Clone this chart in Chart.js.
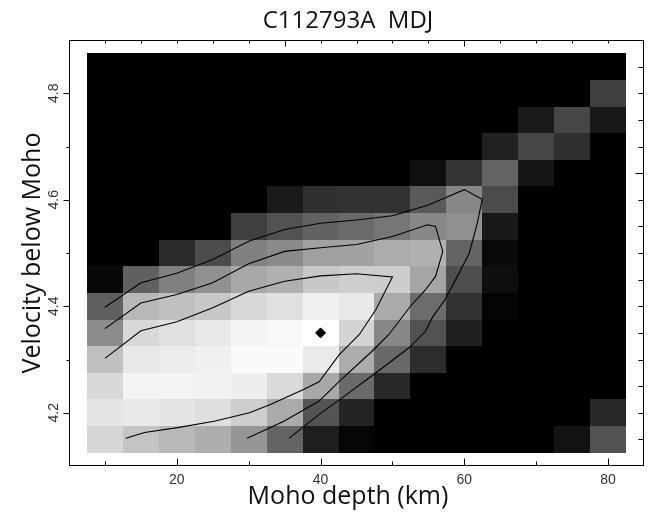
<!DOCTYPE html>
<html>
<head>
<meta charset="utf-8">
<script src="https://cdn.jsdelivr.net/npm/chart.js@4.4.1/dist/chart.umd.min.js"></script>
<style>
  html, body { margin: 0; padding: 0; background: #fff; }
  #wrap { width: 655px; height: 516px; }
</style>
</head>
<body>
<div id="wrap"><canvas id="chart" width="655" height="516"></canvas></div>
<script>
// grid centres
const depths = [10, 15, 20, 25, 30, 35, 40, 45, 50, 55, 60, 65, 70, 75, 80];
const velocities = [4.85, 4.80, 4.75, 4.70, 4.65, 4.60, 4.55, 4.50, 4.45, 4.40, 4.35, 4.30, 4.25, 4.20, 4.15];

// grey level of each cell (0 = black, 255 = white), one row per velocity
const shade = [
  [0, 0, 0, 0, 0, 0, 0, 0, 0, 0, 0, 0, 0, 0, 0],
  [0, 0, 0, 0, 0, 0, 0, 0, 0, 0, 0, 0, 0, 0, 64],
  [0, 0, 0, 0, 0, 0, 0, 0, 0, 0, 0, 0, 26, 70, 24],
  [0, 0, 0, 0, 0, 0, 0, 0, 0, 0, 0, 34, 70, 48, 0],
  [0, 0, 0, 0, 0, 0, 0, 0, 0, 16, 53, 100, 22, 0, 0],
  [0, 0, 0, 0, 0, 26, 48, 50, 50, 90, 135, 75, 0, 0, 0],
  [0, 0, 0, 0, 64, 82, 98, 106, 118, 136, 144, 24, 0, 0, 0],
  [0, 0, 42, 76, 128, 138, 160, 162, 172, 176, 100, 10, 0, 0, 0],
  [8, 96, 128, 144, 168, 176, 200, 206, 205, 165, 78, 14, 0, 0, 0],
  [96, 184, 192, 200, 216, 224, 240, 232, 170, 108, 50, 4, 0, 0, 0],
  [140, 216, 224, 232, 244, 248, 255, 212, 136, 82, 32, 0, 0, 0, 0],
  [192, 232, 236, 240, 250, 250, 234, 172, 104, 44, 0, 0, 0, 0, 0],
  [216, 244, 244, 242, 238, 218, 168, 106, 40, 0, 0, 0, 0, 0, 0],
  [228, 232, 228, 222, 206, 170, 84, 36, 0, 0, 0, 0, 0, 0, 40],
  [214, 196, 184, 174, 150, 100, 30, 6, 0, 0, 0, 0, 0, 18, 82]
];

// contour lines (depth km, velocity)
const contourOuter = [
  {x: 10, y: 4.398}, {x: 15, y: 4.444}, {x: 20, y: 4.462}, {x: 25, y: 4.488},
  {x: 30, y: 4.522}, {x: 35, y: 4.544}, {x: 40, y: 4.556}, {x: 45, y: 4.562},
  {x: 50, y: 4.570}, {x: 55, y: 4.590}, {x: 60, y: 4.619}, {x: 62.5, y: 4.601},
  {x: 61.8, y: 4.556}, {x: 60.7, y: 4.500}, {x: 58.8, y: 4.450}, {x: 57.2, y: 4.410},
  {x: 55.6, y: 4.380}, {x: 54.6, y: 4.353}, {x: 52.3, y: 4.322}, {x: 47.7, y: 4.275},
  {x: 43, y: 4.228}, {x: 39.8, y: 4.197}, {x: 35.6, y: 4.152}
];
const contourMiddle = [
  {x: 10, y: 4.358}, {x: 15, y: 4.406}, {x: 20, y: 4.422}, {x: 25, y: 4.444},
  {x: 30, y: 4.480}, {x: 35, y: 4.503}, {x: 40, y: 4.510}, {x: 45, y: 4.516},
  {x: 50, y: 4.531}, {x: 54.9, y: 4.553}, {x: 56, y: 4.550}, {x: 57, y: 4.503},
  {x: 56, y: 4.456}, {x: 54.6, y: 4.431}, {x: 52.5, y: 4.400}, {x: 49.5, y: 4.347},
  {x: 47.2, y: 4.316}, {x: 42.6, y: 4.259}, {x: 39.8, y: 4.222}, {x: 34.9, y: 4.184},
  {x: 29.8, y: 4.152}
];
const contourInner = [
  {x: 10, y: 4.302}, {x: 15, y: 4.354}, {x: 20, y: 4.371}, {x: 25, y: 4.397},
  {x: 30, y: 4.428}, {x: 35, y: 4.447}, {x: 40, y: 4.457}, {x: 45, y: 4.461},
  {x: 50, y: 4.455}, {x: 47.7, y: 4.394}, {x: 45.4, y: 4.347}, {x: 42.6, y: 4.309},
  {x: 39.8, y: 4.258}, {x: 37.7, y: 4.244}, {x: 33.1, y: 4.216}, {x: 30.1, y: 4.200},
  {x: 25.2, y: 4.184}, {x: 20.1, y: 4.172}, {x: 15.5, y: 4.163}, {x: 12.9, y: 4.152}
];
const bestFit = [{x: 40, y: 4.35}];

// axes
const xBottomTicks = [10, 20, 30, 40, 50, 60, 70, 80];
const xTickLabels = [20, 40, 60, 80];
const xTopTicks = depths;
const xTopLong = [35, 60];
const yLeftTicks = [4.2, 4.3, 4.4, 4.5, 4.6, 4.7, 4.8];
const yTickLabels = ['4.2', '4.4', '4.6', '4.8'];
const yRightTicks = velocities;
const yRightLong = [4.65];

const titleText = 'C112793A  MDJ';
const xTitle = 'Moho depth (km)';
const yTitle = 'Velocity below Moho';

// draw the grid cells through the chart scales
const heatmapPlugin = {
  id: 'heatmap',
  beforeDatasetsDraw(chart) {
    const ctx = chart.ctx;
    const xs = chart.scales.x, ys = chart.scales.y;
    ctx.save();
    velocities.forEach((v, r) => {
      depths.forEach((d, c) => {
        const g = shade[r][c];
        const x0 = Math.round(xs.getPixelForValue(d - 2.5));
        const x1 = Math.round(xs.getPixelForValue(d + 2.5));
        const y0 = Math.round(ys.getPixelForValue(v + 0.025));
        const y1 = Math.round(ys.getPixelForValue(v - 0.025));
        ctx.fillStyle = 'rgb(' + g + ',' + g + ',' + g + ')';
        ctx.fillRect(x0, y0, x1 - x0, y1 - y0);
      });
    });
    ctx.restore();
  }
};

// frame, ticks and text
const framePlugin = {
  id: 'frame',
  afterDraw(chart) {
    const ctx = chart.ctx;
    const xs = chart.scales.x, ys = chart.scales.y;
    const a = chart.chartArea;
    const L = a.left + 0.5, R = a.right - 0.5, T = a.top + 0.5, B = a.bottom - 0.5;
    ctx.save();
    ctx.strokeStyle = '#000';
    ctx.lineWidth = 1;
    ctx.strokeRect(L, T, R - L, B - T);

    ctx.beginPath();
    xBottomTicks.forEach(t => {
      const px = Math.round(xs.getPixelForValue(t)) + 0.5;
      const len = t % 20 === 0 ? 7 : 4;
      ctx.moveTo(px, B); ctx.lineTo(px, B - len);
    });
    xTopTicks.forEach(t => {
      const px = Math.round(xs.getPixelForValue(t)) + 0.5;
      const len = xTopLong.includes(t) ? 6 : 3;
      ctx.moveTo(px, T); ctx.lineTo(px, T + len);
    });
    yLeftTicks.forEach(t => {
      const py = Math.round(ys.getPixelForValue(t)) + 0.5;
      const len = Math.round(t * 10) % 2 === 0 ? 6 : 3;
      ctx.moveTo(L, py); ctx.lineTo(L - len, py);
    });
    yRightTicks.forEach(t => {
      const py = Math.round(ys.getPixelForValue(t)) + 0.5;
      const len = yRightLong.includes(t) ? 8 : 5;
      ctx.moveTo(R, py); ctx.lineTo(R - len, py);
    });
    ctx.stroke();

    // tick labels
    ctx.fillStyle = '#333';
    ctx.font = '14px "Liberation Sans", Arial, sans-serif';
    ctx.textAlign = 'center';
    ctx.textBaseline = 'middle';
    xTickLabels.forEach(t => {
      ctx.fillText(String(t), xs.getPixelForValue(t), a.bottom + 14);
    });
    yTickLabels.forEach(t => {
      ctx.save();
      ctx.translate(a.left - 15, ys.getPixelForValue(parseFloat(t)));
      ctx.rotate(-Math.PI / 2);
      ctx.fillText(t, 0, 0);
      ctx.restore();
    });

    // titles
    ctx.fillStyle = '#111';
    ctx.textBaseline = 'alphabetic';
    ctx.font = '24px "Open Sans", "Noto Sans", sans-serif';
    ctx.fillText(titleText, 348, 28);
    ctx.font = '25px "Open Sans", "Noto Sans", sans-serif';
    ctx.fillText(xTitle, 348, 504);
    ctx.save();
    ctx.translate(40, (a.top + a.bottom) / 2);
    ctx.rotate(-Math.PI / 2);
    ctx.fillText(yTitle, 0, 0);
    ctx.restore();
    ctx.restore();
  }
};

const lineStyle = {
  type: 'scatter', showLine: true, borderColor: '#000', borderWidth: 1.1,
  pointRadius: 0, tension: 0, fill: false
};

new Chart(document.getElementById('chart'), {
  type: 'scatter',
  data: {
    datasets: [
      Object.assign({ label: 'outer', data: contourOuter }, lineStyle),
      Object.assign({ label: 'middle', data: contourMiddle }, lineStyle),
      Object.assign({ label: 'inner', data: contourInner }, lineStyle),
      {
        label: 'best', data: bestFit, pointStyle: 'rectRot', pointRadius: 5,
        backgroundColor: '#000', borderColor: '#000', borderWidth: 1
      }
    ]
  },
  options: {
    responsive: false,
    animation: false,
    layout: { padding: { left: 69, top: 40, right: 11, bottom: 50 } },
    scales: {
      x: { type: 'linear', min: 5, max: 85, display: false },
      y: { type: 'linear', min: 4.1, max: 4.9, display: false }
    },
    plugins: { legend: { display: false }, tooltip: { enabled: false } }
  },
  plugins: [heatmapPlugin, framePlugin]
});
</script>
</body>
</html>
